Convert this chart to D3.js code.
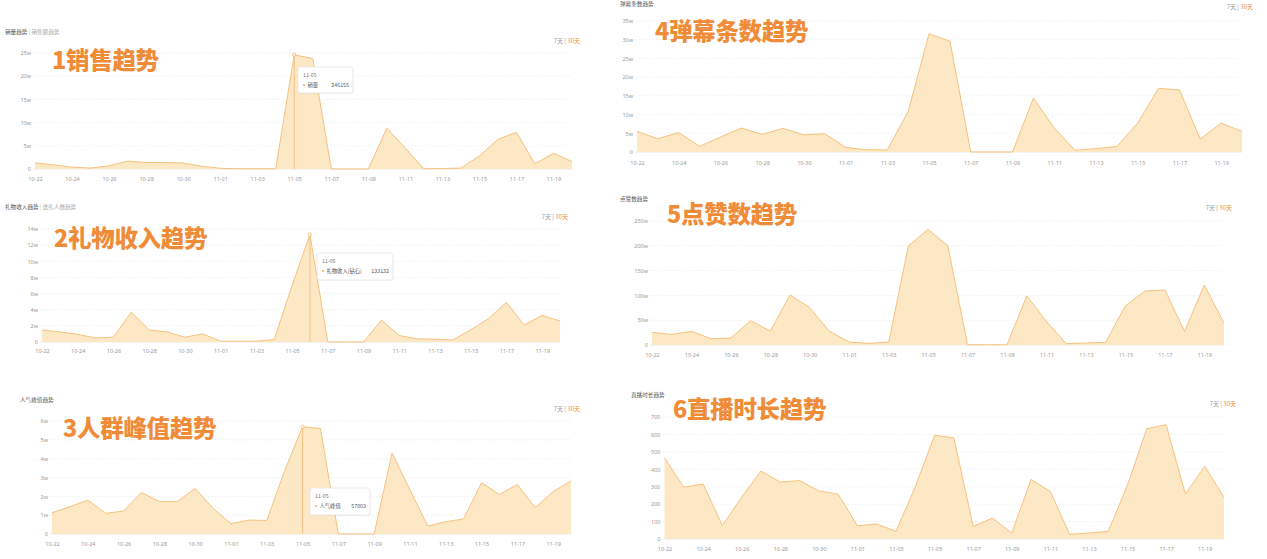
<!DOCTYPE html>
<html><head><meta charset="utf-8">
<script src="https://cdn.jsdelivr.net/npm/d3@7/dist/d3.min.js"></script>
<style>
body{margin:0;background:#fff;}
svg{display:block;font-family:"Noto Sans CJK SC","Noto Sans",sans-serif;}
</style>
</head><body>
<svg id="c" width="1267" height="559"></svg>
<script>
// ---------- DATA ----------
const dates = ['10-22','10-23','10-24','10-25','10-26','10-27','10-28','10-29','10-30','10-31',
  '11-01','11-02','11-03','11-04','11-05','11-06','11-07','11-08','11-09','11-10',
  '11-11','11-12','11-13','11-14','11-15','11-16','11-17','11-18','11-19','11-20'];
const xTickLabels = ['10-22','10-24','10-26','10-28','10-30','11-01','11-03','11-05','11-07','11-09','11-11','11-13','11-15','11-17','11-19'];

const salesValues = [13000,9000,4000,2000,7000,17000,14000,14000,13000,6000,1500,500,500,500,246155,238000,0,0,0,88000,45000,500,1000,2000,28000,64000,79000,11000,34000,16000];
const giftValues = [15000,12500,9500,5000,6000,37000,15000,12500,6000,10000,1000,1000,1000,3000,70000,133132,0,0,0,27000,8000,4000,3500,2500,15000,29000,49000,21000,33000,26000];
const peakValues = [11300,14500,18000,11000,12200,22000,17200,17200,24200,13600,5500,7400,7200,33500,57003,56000,0,0,0,43000,23500,4200,6500,8000,27200,21000,26300,14000,22500,28200];
const danmuValues = [55000,35500,52000,15000,40000,64000,47000,63000,46000,49000,12500,6000,5500,108000,316000,296000,0,0,0,144000,64000,4500,9000,15000,77000,170000,166000,34500,77000,55000];
const likeValues = [255000,214000,275000,127000,141000,490000,280000,1010000,750000,275000,60000,34000,60000,2000000,2330000,2000000,5000,5000,5000,990000,476000,27000,40000,54000,790000,1090000,1110000,275000,1210000,440000];
const durationValues = [466,297,316,78,240,390,327,335,276,257,76,86,44,300,595,580,72,120,34,342,272,27,34,44,310,633,656,257,418,240];

const yTicks1 = [0,50000,100000,150000,200000,250000];
const yTicks2 = [0,20000,40000,60000,80000,100000,120000,140000];
const yTicks3 = [0,10000,20000,30000,40000,50000,60000];
const yTicks4 = [0,50000,100000,150000,200000,250000,300000,350000];
const yTicks5 = [0,500000,1000000,1500000,2000000,2500000];
const yTicks6 = [0,100,200,300,400,500,600,700];

const bigTitles = ['1销售趋势','2礼物收入趋势','3人群峰值趋势','4弹幕条数趋势','5点赞数趋势','6直播时长趋势'];
const subTitleMain = ['销量趋势','礼物收入趋势','人气峰值趋势','弹幕条数趋势','点赞数趋势','直播时长趋势'];
const subTitleAlt = ['销售额趋势','送礼人数趋势','','','',''];
const rangeLabels = ['7天','30天'];
const tipDates = ['11-05','11-06','11-05'];
const tipNames = ['销量','礼物收入(钻石)','人气峰值'];
const tipValues = [246155,133132,57003];

// ---------- LAYOUT ----------
const panels = [
  {values:salesValues, ticks:yTicks1, left:35, right:572, top:53, bottom:169, xLab:179, subX:5, subY:32, swR:580, swY:40, tX:52, tY:59, tip:{i:0, x:298, y:67, w:55, h:26}},
  {values:giftValues, ticks:yTicks2, left:42, right:560, top:229, bottom:342, xLab:351, subX:5, subY:207, swR:568, swY:216, tX:54, tY:237, tip:{i:1, x:317, y:253, w:76, h:27}},
  {values:peakValues, ticks:yTicks3, left:52, right:571, top:421, bottom:534, xLab:544, subX:20, subY:400, swR:580, swY:408, tX:63, tY:427, tip:{i:2, x:310, y:488, w:60, h:27}},
  {values:danmuValues, ticks:yTicks4, left:637, right:1242, top:21, bottom:152, xLab:163, subX:620, subY:4, swR:1253, swY:6, tX:655, tY:30},
  {values:likeValues, ticks:yTicks5, left:652, right:1224, top:221, bottom:345, xLab:355, subX:620, subY:199, swR:1232, swY:207, tX:667, tY:213},
  {values:durationValues, ticks:yTicks6, left:664.5, right:1224, top:417, bottom:539, xLab:549, subX:631, subY:395, swR:1236, swY:403, tX:673, tY:408}
];

const svg = d3.select('#c');
const fmt = v => v >= 10000 ? (v/10000) + 'w' : String(v);
const ORANGE = '#F08C38';
const LINE = '#F5C27E';
const FILL = '#FDE8C5';

panels.forEach((p, k) => {
  const g = svg.append('g');
  const x = d3.scalePoint().domain(dates).range([p.left, p.right]);
  const y = d3.scaleLinear().domain([0, p.ticks[p.ticks.length-1]]).range([p.bottom, p.top]);

  // grid lines
  g.selectAll('line.grid').data(p.ticks.slice(1)).join('line')
    .attr('x1', p.left - 2).attr('x2', p.right)
    .attr('y1', d => y(d)).attr('y2', d => y(d))
    .attr('stroke', '#ececec').attr('stroke-width', 0.7).attr('stroke-dasharray', '2,1.5');
  g.append('line').attr('x1', p.left - 2).attr('x2', p.right)
    .attr('y1', y(0)).attr('y2', y(0)).attr('stroke', '#e3e3e3').attr('stroke-width', 0.8);

  // y axis
  const ya = g.append('g').attr('transform', `translate(${p.left},0)`)
    .call(d3.axisLeft(y).tickValues(p.ticks).tickSize(0).tickPadding(4).tickFormat(fmt));
  ya.select('.domain').remove();
  ya.selectAll('text').attr('font-size', 5.5).attr('fill', '#9a9a9a').attr('font-family', '"Noto Sans","Noto Sans CJK SC",sans-serif');

  // x axis
  const xa = g.append('g').attr('transform', `translate(0,${p.xLab})`)
    .call(d3.axisBottom(x).tickValues(xTickLabels).tickSize(0).tickPadding(0));
  xa.select('.domain').remove();
  xa.selectAll('text').attr('font-size', 5.5).attr('fill', '#9a9a9a').attr('y', 0).attr('dy', 0)
    .attr('dominant-baseline', 'central')
    .attr('font-family', '"Noto Sans","Noto Sans CJK SC",sans-serif');

  // area + line
  const area = d3.area().x((d, i) => x(dates[i])).y0(y(0)).y1(d => y(d));
  const line = d3.line().x((d, i) => x(dates[i])).y(d => y(d));
  g.append('path').datum(p.values).attr('d', area).attr('fill', FILL);
  g.append('path').datum(p.values).attr('d', line).attr('fill', 'none')
    .attr('stroke', LINE).attr('stroke-width', 1).attr('stroke-linejoin', 'round');

  // subtitle
  const st = g.append('text').attr('x', p.subX).attr('y', p.subY).attr('dominant-baseline', 'central')
    .attr('font-size', 5.6);
  st.append('tspan').attr('fill', '#555').text(subTitleMain[k]);
  if (subTitleAlt[k]) {
    st.append('tspan').attr('fill', '#bbb').text(' | ');
    st.append('tspan').attr('fill', '#aaa').text(subTitleAlt[k]);
  }

  // range switch
  const sw = g.append('text').attr('x', p.swR).attr('y', p.swY).attr('text-anchor', 'end')
    .attr('dominant-baseline', 'central').attr('font-size', 6);
  sw.append('tspan').attr('fill', '#999').text(rangeLabels[0] + ' | ');
  sw.append('tspan').attr('fill', ORANGE).text(rangeLabels[1]);

  // tooltip
  if (p.tip) {
    const t = p.tip;
    const di = tipDates[t.i];
    const cx = x(di);
    const vi = dates.indexOf(di);
    g.append('line').attr('x1', cx).attr('x2', cx).attr('y1', y(p.values[vi])).attr('y2', y(0))
      .attr('stroke', '#F2B872').attr('stroke-width', 0.8);
    g.append('circle').attr('cx', cx).attr('cy', y(p.values[vi])).attr('r', 1.6)
      .attr('fill', '#fff').attr('stroke', '#F2B060').attr('stroke-width', 0.8);
    g.append('rect').attr('x', t.x + 0.5).attr('y', t.y + 0.8).attr('width', t.w).attr('height', t.h)
      .attr('rx', 2).attr('fill', 'rgba(0,0,0,0.05)');
    g.append('rect').attr('x', t.x).attr('y', t.y).attr('width', t.w).attr('height', t.h)
      .attr('rx', 2).attr('fill', '#fff').attr('stroke', '#e2e2e2').attr('stroke-width', 0.7);
    g.append('text').attr('x', t.x + 5).attr('y', t.y + 8).attr('dominant-baseline', 'central')
      .attr('font-size', 5.3).attr('fill', '#777').text(di);
    g.append('circle').attr('cx', t.x + 6).attr('cy', t.y + 18).attr('r', 1).attr('fill', '#F2B060');
    g.append('text').attr('x', t.x + 9.5).attr('y', t.y + 18).attr('dominant-baseline', 'central')
      .attr('font-size', 5.3).attr('fill', '#555').text(tipNames[t.i]);
    g.append('text').attr('x', t.x + t.w - 4).attr('y', t.y + 18).attr('dominant-baseline', 'central')
      .attr('text-anchor', 'end').attr('font-size', 5.3).attr('fill', '#555').text(tipValues[t.i]);
  }

  // big orange title
  g.append('text').attr('x', p.tX).attr('y', p.tY).attr('dominant-baseline', 'central')
    .attr('font-size', 23.5).attr('font-weight', 900).attr('fill', ORANGE)
    .attr('stroke', '#fff').attr('stroke-width', 3).attr('paint-order', 'stroke')
    .attr('letter-spacing', -0.3)
    .text(bigTitles[k]);
});
</script>
</body></html>
